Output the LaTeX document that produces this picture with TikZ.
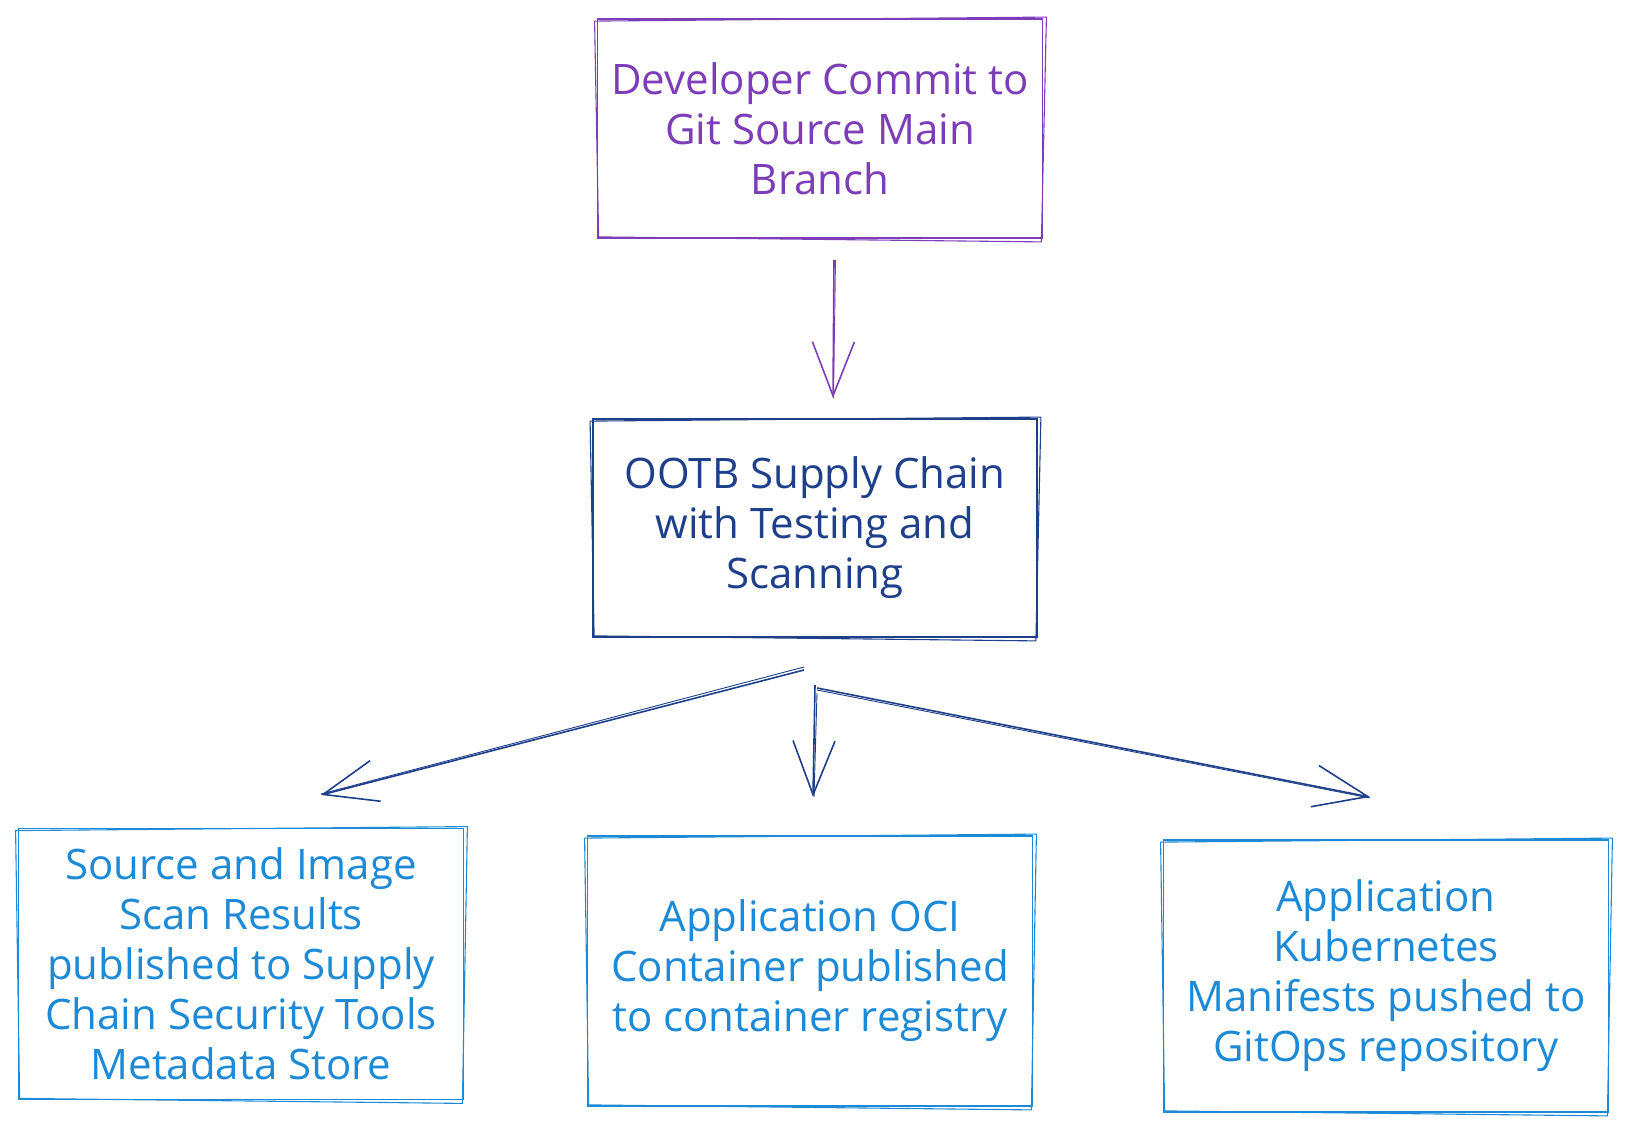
\documentclass[tikz,border=0pt]{standalone}
\usepackage{fontspec}
\setmainfont{Open Sans}
\usetikzlibrary{arrows.meta}
\definecolor{cpurple}{RGB}{125,60,184}
\definecolor{cnavy}{RGB}{30,63,138}
\definecolor{cblue}{RGB}{28,138,214}
\newcommand\sketchbox[1]{\draw[line width=1.1pt] ([shift={(-2,3)}]#1.north west) -- ([shift={(3,-1)}]#1.north east) -- ([shift={(-2,3)}]#1.south east) -- ([shift={(2,-2)}]#1.south west) -- cycle;}
\begin{document}
\begin{tikzpicture}[x=1pt,y=-1pt,
  box/.style={draw, line width=1.8pt, inner sep=0pt, align=center,
    font=\fontsize{42}{50}\selectfont},
  conn/.style={line width=1.6pt, -{Straight Barb[length=54pt,width=42pt,line width=1.6pt]}},
  conn2/.style={line width=0.9pt},
]
\useasboundingbox (0,0) rectangle (1626,1126);

% boxes
\node[box, cpurple, text=cpurple, minimum width=445pt, minimum height=219pt] (dev) at (820,128.5)
  {Developer Commit to\\Git Source Main\\Branch};
\begin{scope}[cpurple]\sketchbox{dev}\end{scope}

\node[box, cnavy, text=cnavy, minimum width=444pt, minimum height=218pt] (ootb) at (815,528)
  {OOTB Supply Chain\\with Testing and\\Scanning};
\begin{scope}[cnavy]\sketchbox{ootb}\end{scope}

\node[box, cblue, text=cblue, minimum width=445pt, minimum height=271pt] (scan) at (241,964)
  {Source and Image\\Scan Results\\published to Supply\\Chain Security Tools\\Metadata Store};
\begin{scope}[cblue]\sketchbox{scan}\end{scope}

\node[box, cblue, text=cblue, minimum width=445pt, minimum height=270pt] (oci) at (810,971)
  {Application OCI\\Container published\\to container registry};
\begin{scope}[cblue]\sketchbox{oci}\end{scope}

\node[box, cblue, text=cblue, minimum width=445pt, minimum height=272pt] (k8s) at (1386,976)
  {Application\\Kubernetes\\Manifests pushed to\\GitOps repository};
\begin{scope}[cblue]\sketchbox{k8s}\end{scope}

% connector end points
\coordinate (a0s) at (834,260);  \coordinate (a0e) at (833,398);
\coordinate (a1s) at (804,670);  \coordinate (a1e) at (321,795);
\coordinate (a2s) at (815,685);  \coordinate (a2e) at (813,797);
\coordinate (a3s) at (817,688);  \coordinate (a3e) at (1370,797);

\draw[conn, cpurple] (a0s) -- (a0e);
\draw[conn2, cpurple] ([xshift=1.5]a0s) -- ([xshift=0.5]a0e);

\draw[conn, cnavy] (a1s) -- (a1e);
\draw[conn2, cnavy] ([yshift=3]a1s) -- ([yshift=1]a1e);
\draw[conn, cnavy] (a2s) -- (a2e);
\draw[conn2, cnavy] ([xshift=2,yshift=-8]a2s) -- ([xshift=1]a2e);
\draw[conn, cnavy] (a3s) -- (a3e);
\draw[conn2, cnavy] ([yshift=-2]a3s) -- ([yshift=-1]a3e);
\end{tikzpicture}
\end{document}
